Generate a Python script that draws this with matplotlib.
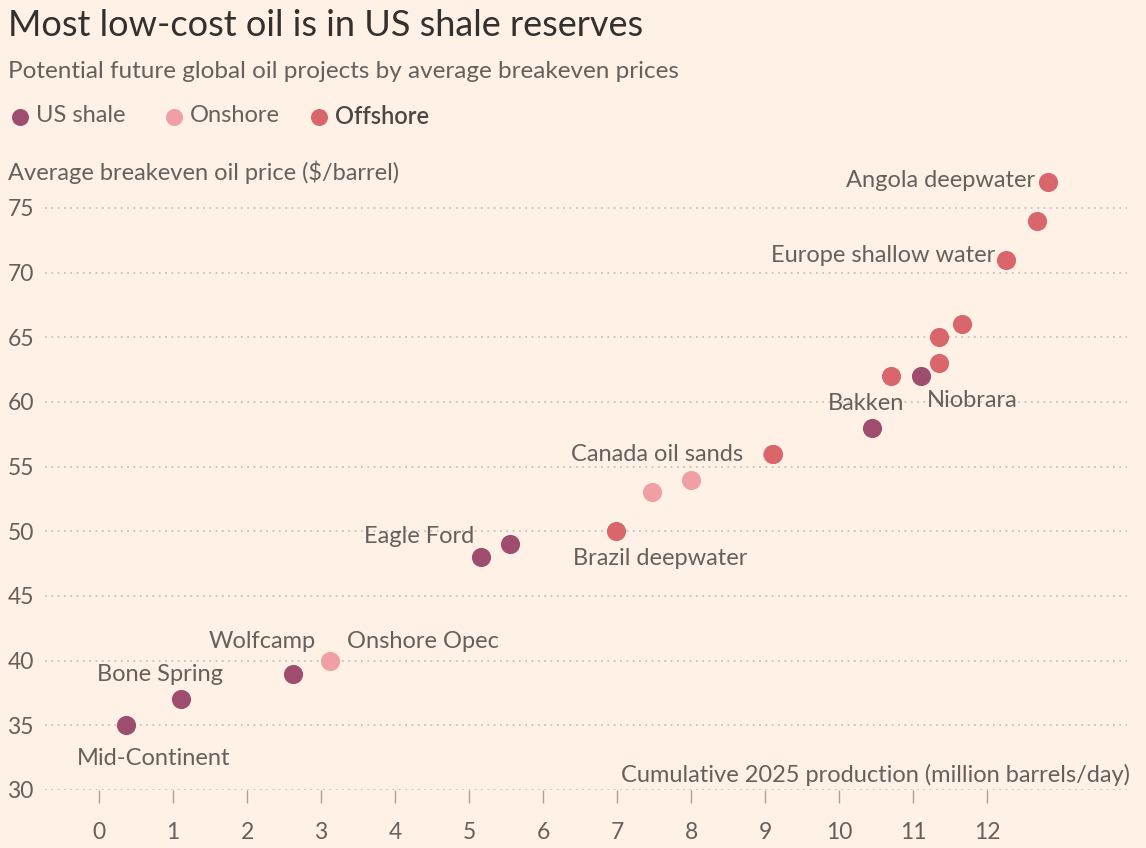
import matplotlib
matplotlib.use("Agg")
import matplotlib.pyplot as plt

# ---- data ----
shale_x = [0.36, 1.11, 2.62, 5.16, 5.55, 10.45, 11.1]
shale_y = [35, 37, 39, 48, 49, 58, 62]
onshore_x = [3.12, 7.47, 8.0, 9.09]
onshore_y = [40, 53, 54, 56]
offshore_x = [6.99, 9.11, 10.7, 11.35, 11.35, 11.66, 12.26, 12.68, 12.82]
offshore_y = [50, 56, 62, 63, 65, 66, 71, 74, 77]

labels = ["Angola deepwater", "Europe shallow water", "Bakken", "Niobrara",
          "Canada oil sands", "Brazil deepwater", "Eagle Ford", "Wolfcamp",
          "Onshore Opec", "Bone Spring", "Mid-Continent"]
label_x = [12.65, 12.11, 10.36, 11.18, 8.70, 7.58, 5.07, 2.20, 3.35, 0.82, 0.74]
label_y = [77.1, 71.3, 59.85, 60.1, 55.9, 47.9, 49.6, 41.5, 41.5, 38.9, 32.4]
label_ha = ["right", "right", "center", "left", "right", "center", "right",
            "center", "left", "center", "center"]

x_ticks = list(range(0, 13))
y_ticks = [30, 35, 40, 45, 50, 55, 60, 65, 70, 75]

# ---- style ----
BG = "#fff1e5"
C_SHALE = "#9e4d6e"
C_ON = "#f0a0a4"
C_OFF = "#d8666a"
TXT = "#66605c"
TITLE = "#33302e"
GRID = "#c9c1b9"
FONT = ["Lato", "DejaVu Sans"]
plt.rcParams["font.family"] = FONT
FS = 17

W, H = 1146, 848
fig = plt.figure(figsize=(W / 100, H / 100), dpi=100, facecolor=BG)

# axes placed in pixel terms
left, right, top, bottom = 45, 1127, 169, 790
ax = fig.add_axes([left / W, 1 - bottom / H, (right - left) / W, (bottom - top) / H])
ax.set_facecolor(BG)
ax.set_xlim(-0.73, 13.89)
ax.set_ylim(30, 78)
for s in ax.spines.values():
    s.set_visible(False)

for yv in y_ticks:
    ax.axhline(yv, color=GRID, lw=1.3, ls=(0, (1, 2.5)), zorder=0)

ax.set_yticks(y_ticks)
ax.set_yticklabels([str(v) for v in y_ticks], fontsize=16.5, color=TXT)
ax.tick_params(axis="y", length=0, pad=8)
ax.set_xticks(x_ticks)
ax.set_xticklabels([str(v) for v in x_ticks], fontsize=16.5, color=TXT)
ax.tick_params(axis="x", length=9, width=1, color="#a9a29c", pad=14, direction="out")

ms = 190
ax.scatter(onshore_x, onshore_y, s=ms, color=C_ON, zorder=3, clip_on=False, linewidths=0)
ax.scatter(offshore_x, offshore_y, s=ms, color=C_OFF, zorder=4, clip_on=False, linewidths=0)
ax.scatter(shale_x, shale_y, s=ms, color=C_SHALE, zorder=5, clip_on=False, linewidths=0)

for t, lx, ly, ha in zip(labels, label_x, label_y, label_ha):
    ax.text(lx, ly, t, ha=ha, va="center", fontsize=FS, color=TXT, zorder=6)

ax.text(1.003, 0.025, "Cumulative 2025 production (million barrels/day)",
        transform=ax.transAxes, ha="right", va="center", fontsize=FS, color=TXT)

# ---- header ----
fig.text(8 / W, 1 - 25 / H, "Most low-cost oil is in US shale reserves",
         fontsize=26, color=TITLE, ha="left", va="center")
fig.text(8 / W, 1 - 72 / H, "Potential future global oil projects by average breakeven prices",
         fontsize=17.5, color=TXT, ha="left", va="center")
fig.text(8 / W, 1 - 172 / H, "Average breakeven oil price ($/barrel)",
         fontsize=FS, color=TXT, ha="left", va="center")

# legend
lax = fig.add_axes([0, 0, 1, 1], facecolor="none")
lax.set_xlim(0, W)
lax.set_ylim(H, 0)
lax.axis("off")
leg_items = [("US shale", C_SHALE, 20, "normal"), ("Onshore", C_ON, 174, "normal"),
             ("Offshore", C_OFF, 319, "semibold")]
for name, col, px, wt in leg_items:
    lax.scatter([px], [117], s=150, color=col, linewidths=0)
    lax.text(px + 16, 116, name, fontsize=FS, color=TXT if wt == "normal" else "#4d4845",
             ha="left", va="center", fontweight=wt)

fig.savefig("out.png", dpi=100, facecolor=BG)
